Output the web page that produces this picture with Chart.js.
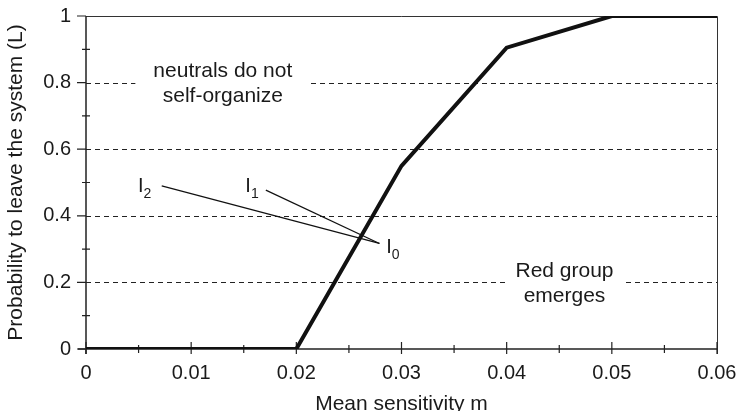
<!DOCTYPE html>
<html>
<head>
<meta charset="utf-8">
<script src="https://cdn.jsdelivr.net/npm/chart.js@4.4.1/dist/chart.umd.min.js"></script>
<style>
  html, body { margin: 0; padding: 0; background: #fff; }
  #wrap { width: 739px; height: 411px; }
</style>
</head>
<body>
<div id="wrap"><canvas id="sensChart"></canvas></div>
<script>
// Data
const sensitivity = [0, 0.02, 0.03, 0.04, 0.05, 0.06];
const leaveProb = [0, 0, 0.55, 0.905, 1, 1];

const xTickLabels = ["0", "0.01", "0.02", "0.03", "0.04", "0.05", "0.06"];
const yTickLabels = ["0", "0.2", "0.4", "0.6", "0.8", "1"];

// pointer lines I2 -> I0 and I1 -> I0 (data coords)
const pointerI2 = [{ x: 0.0072, y: 0.49 }, { x: 0.0279, y: 0.317 }];
const pointerI1 = [{ x: 0.0171, y: 0.477 }, { x: 0.0279, y: 0.317 }];

// labels "I" with subscript, anchored at baseline start
const iLabels = [
  { x: 0.00494, y: 0.4724, sub: "2" },
  { x: 0.01515, y: 0.4724, sub: "1" },
  { x: 0.02854, y: 0.2874, sub: "0" }
];

// two-line notes sitting on a grid line
const notes = [
  { x: 0.01301, y: 0.8168, lines: ["neutrals do not", "self-organize"], pad: 18 },
  { x: 0.0455, y: 0.2162, lines: ["Red group", "emerges"], pad: 9 }
];

const FONT = "'Liberation Sans', Arial, Helvetica, sans-serif";
const INK = "#1a1a1a";

const points = sensitivity.map((x, i) => ({ x: x, y: leaveProb[i] }));

// draws the frame, dashed grid, tick marks and notes
const framePlugin = {
  id: "frame",
  beforeDatasetsDraw(chart) {
    const { ctx, chartArea: a, scales: { x, y } } = chart;
    ctx.save();

    // dashed grid lines (inner y ticks)
    ctx.strokeStyle = "#222";
    ctx.lineWidth = 1;
    ctx.setLineDash([5, 4]);
    y.ticks.forEach(t => {
      if (t.value <= y.min || t.value >= y.max) return;
      const py = Math.round(y.getPixelForValue(t.value)) + 0.5;
      ctx.beginPath();
      ctx.moveTo(a.left, py);
      ctx.lineTo(a.right, py);
      ctx.stroke();
    });
    ctx.setLineDash([]);

    // notes with white background
    ctx.font = "21px " + FONT;
    ctx.textAlign = "center";
    ctx.textBaseline = "alphabetic";
    notes.forEach(n => {
      const cx = x.getPixelForValue(n.x);
      const by = y.getPixelForValue(n.y);
      const w = Math.max(...n.lines.map(s => ctx.measureText(s).width));
      ctx.fillStyle = "#fff";
      ctx.fillRect(cx - w / 2 - n.pad, by - 20, w + 2 * n.pad, 25 * n.lines.length + 4);
      ctx.fillStyle = INK;
      n.lines.forEach((s, i) => ctx.fillText(s, cx, by + i * 25));
    });

    // top and right border
    ctx.strokeStyle = "#333";
    ctx.lineWidth = 1;
    ctx.beginPath();
    ctx.moveTo(a.left, Math.round(a.top) + 0.5);
    ctx.lineTo(Math.round(a.right) + 0.5, Math.round(a.top) + 0.5);
    ctx.lineTo(Math.round(a.right) + 0.5, a.bottom + 5);
    ctx.stroke();

    // left and bottom axes
    ctx.strokeStyle = "#222";
    ctx.lineWidth = 1.5;
    ctx.beginPath();
    ctx.moveTo(a.left, a.top);
    ctx.lineTo(a.left, a.bottom + 5);
    ctx.moveTo(a.left - 8, a.bottom);
    ctx.lineTo(a.right, a.bottom);
    ctx.stroke();

    // tick marks
    ctx.lineWidth = 1.2;
    ctx.beginPath();
    y.ticks.forEach((t, i) => {
      const py = y.getPixelForValue(t.value);
      ctx.moveTo(a.left - 9, py);
      ctx.lineTo(a.left, py);
      if (i > 0) {
        const my = y.getPixelForValue((t.value + y.ticks[i - 1].value) / 2);
        ctx.moveTo(a.left - 4, my);
        ctx.lineTo(a.left + 4, my);
      }
    });
    x.ticks.forEach((t, i) => {
      const px = x.getPixelForValue(t.value);
      ctx.moveTo(px, a.bottom - 7);
      ctx.lineTo(px, a.bottom + 5);
      if (i > 0) {
        const mx = x.getPixelForValue((t.value + x.ticks[i - 1].value) / 2);
        ctx.moveTo(mx, a.bottom - 4);
        ctx.lineTo(mx, a.bottom + 4);
      }
    });
    ctx.stroke();
    ctx.restore();
  },
  afterDatasetsDraw(chart) {
    const { ctx, scales: { x, y } } = chart;
    ctx.save();
    ctx.fillStyle = INK;
    ctx.textAlign = "left";
    ctx.textBaseline = "alphabetic";
    iLabels.forEach(l => {
      const px = x.getPixelForValue(l.x);
      const py = y.getPixelForValue(l.y);
      ctx.font = "20px " + FONT;
      ctx.fillText("I", px, py);
      const w = ctx.measureText("I").width;
      ctx.font = "14px " + FONT;
      ctx.fillText(l.sub, px + w, py + 6);
    });
    ctx.restore();
  }
};

new Chart(document.getElementById("sensChart"), {
  type: "scatter",
  data: {
    datasets: [
      {
        data: points,
        showLine: true,
        borderColor: "#111",
        borderWidth: 4,
        pointRadius: 0,
        borderJoinStyle: "miter",
        tension: 0
      },
      {
        data: pointerI2,
        showLine: true,
        borderColor: "#111",
        borderWidth: 1.2,
        pointRadius: 0
      },
      {
        data: pointerI1,
        showLine: true,
        borderColor: "#111",
        borderWidth: 1.2,
        pointRadius: 0
      }
    ]
  },
  options: {
    responsive: true,
    maintainAspectRatio: false,
    animation: false,
    layout: { padding: { top: 16, right: 22, left: 0, bottom: 0 } },
    plugins: {
      legend: { display: false },
      tooltip: { enabled: false }
    },
    scales: {
      x: {
        type: "linear",
        min: 0,
        max: 0.06,
        grid: { display: false, drawTicks: false },
        border: { display: false },
        ticks: {
          stepSize: 0.01,
          padding: 12,
          color: INK,
          font: { family: FONT, size: 20 },
          callback: (v, i) => xTickLabels[i]
        },
        title: {
          display: true,
          text: "Mean sensitivity m",
          color: INK,
          font: { family: FONT, size: 21, lineHeight: 0.8 },
          padding: { top: 0, bottom: -2 }
        },
        afterFit: s => {
          s.height = 62;
          s.paddingLeft = 0;
          s.paddingRight = 0;
        }
      },
      y: {
        type: "linear",
        min: 0,
        max: 1,
        grid: { display: false, drawTicks: false },
        border: { display: false },
        ticks: {
          stepSize: 0.2,
          padding: 15,
          color: INK,
          font: { family: FONT, size: 20 },
          callback: (v, i) => yTickLabels[i]
        },
        title: {
          display: true,
          text: "Probability to leave the system (L)",
          color: INK,
          font: { family: FONT, size: 21, lineHeight: 1 },
          padding: { top: 5.5, bottom: 0 }
        },
        afterFit: s => {
          s.width = 86;
          s.paddingTop = 0;
          s.paddingBottom = 0;
        }
      }
    }
  },
  plugins: [framePlugin]
});
</script>
</body>
</html>
